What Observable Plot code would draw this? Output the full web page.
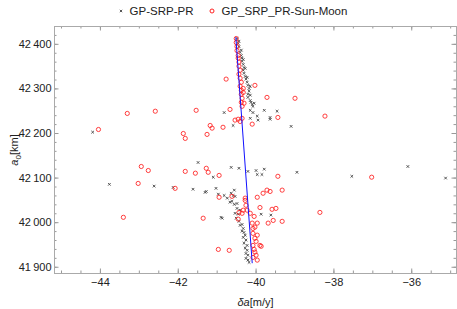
<!DOCTYPE html>
<html><head><meta charset="utf-8">
<script src="https://cdn.jsdelivr.net/npm/d3@7"></script>
<script src="https://cdn.jsdelivr.net/npm/@observablehq/plot@0.6"></script>
<style>
body{margin:0;background:#fff;font-family:"Liberation Sans",Arial,sans-serif;}
#legend{height:22px;display:flex;align-items:center;justify-content:center;font-size:11.5px;color:#222;padding-left:8px;}
#legend .item{display:flex;align-items:center;margin:0 8px;}
#legend svg{margin-right:6px;}
</style></head><body>
<div id="legend"></div>
<div id="chart"></div>
<script>
const seriesNames = ["GP-SRP-PR", "GP_SRP_PR-Sun-Moon"];
const xMajorTicks = [-44, -42, -40, -38, -36];
const yMajorTicks = [41900, 42000, 42100, 42200, 42300, 42400];
const xDomain = [-45.18, -34.85];
const yDomain = [41886, 42440];

// GP-SRP-PR (black x)
const gpX = [-40.49,-40.44,-40.46,-40.44,-40.38,-40.41,-40.38,-40.36,-40.33,-40.36,-40.33,-40.31,-40.28,-40.33,-40.31,-40.28,-40.23,-40.26,-40.23,-40.21,-40.15,-40.18,-40.18,-40.21,-40.15,-40.21,-40.15,-40.13,-40.05,-40.10,-40.08,-40.15,-40.08,-39.97,-40.15,-39.95,-39.79,-39.64,-39.46,-39.64,-40.59,-40.82,-39.10,-44.20,
 -40.64,-40.44,-40.21,-40.00,-39.97,-39.79,-39.85,-41.10,-41.49,-41.03,-41.31,-40.97,-40.82,-40.74,-40.56,-40.59,-40.67,-40.64,-40.54,-40.49,-40.49,-43.77,-42.62,-42.13,-41.62,-41.28,-38.95,-37.54,-36.10,-35.13,-39.62,-39.87,-40.90,-40.51,
 -40.62,-40.56,-40.54,-40.41,-40.87,-40.46,-40.44,-40.41,-40.36,-40.33,-40.36,-40.31,-40.28,-40.33,-40.26,-40.31,-40.23,-40.28,-40.23,-40.26,-40.21,-40.26,-40.21,-40.18];
const gpY = [42413,42407,42402,42395,42387,42382,42375,42369,42366,42362,42355,42348,42346,42342,42335,42328,42326,42322,42315,42308,42306,42301,42295,42288,42286,42281,42274,42270,42268,42265,42261,42252,42247,42239,42234,42230,42252,42236,42250,42232,42218,42247,42216,42203,
 42124,42122,42115,42117,42108,42120,42108,42102,42135,42077,42068,42064,42061,42055,42073,42061,42046,42066,42059,42043,42032,42086,42082,42079,42075,42070,42113,42104,42126,42100,42017,42019,42012,42010,
 42048,42041,42021,42028,42010,42019,42003,41994,41996,41987,41981,41978,41972,41967,41961,41954,41949,41943,41938,41931,41927,41920,41916,41911];

// GP_SRP_PR-Sun-Moon (red circles)
const smX = [-40.51,-40.51,-40.49,-40.49,-40.46,-40.46,-40.44,-40.44,-40.41,-40.44,-40.41,-40.38,-40.41,-40.33,-40.38,-40.33,-40.38,-40.36,-40.38,-40.31,-40.36,-40.54,-40.46,-40.36,-40.41,-40.10,-40.77,-40.03,-39.72,-40.67,-40.85,-41.18,-41.13,-41.26,-39.44,-44.05,-43.31,-42.59,-41.54,-41.87,-41.82,-39.00,-38.23,
 -42.95,-42.77,-41.82,-41.56,-41.28,-41.23,-40.95,-43.03,-42.08,-40.95,-40.62,-43.41,-41.36,-40.44,-40.46,-40.97,-40.69,-39.44,-37.03,-39.33,-39.64,-39.72,-39.82,-39.59,-39.49,-38.36,-39.56,-39.69,-39.33,-39.87,-39.97,-39.90,-40.28,
 -40.28,-40.26,-40.23,-40.15,-40.05,-40.10,-40.08,-40.03,-39.97,-40.08,-39.97,-40.03,-40.00,-40.08,-39.90,-40.05,-40.03,-40.00,-40.08,-39.97,-40.33,-40.36];
const smY = [42413,42404,42395,42386,42375,42369,42360,42351,42342,42333,42324,42315,42306,42301,42297,42292,42288,42279,42270,42268,42261,42230,42232,42234,42227,42221,42322,42308,42281,42254,42214,42218,42212,42198,42236,42209,42245,42250,42252,42200,42189,42279,42239,
 42126,42117,42115,42111,42122,42113,42106,42088,42077,42057,42059,42012,42010,42023,42008,41940,41938,42104,42102,42073,42070,42073,42066,42030,42032,42023,42005,41999,42003,41947,42057,42034,42055,
 42050,42039,42028,42021,42014,41999,41987,41990,41999,41976,41972,41965,41958,41949,41949,41940,41934,41927,41922,41916,42028,42021];

// blue fit line
const fitX = [-40.52, -40.10];
const fitY = [42415, 41910];

const gp = gpX.map((x, i) => ({x, y: gpY[i]}));
const sm = smX.map((x, i) => ({x, y: smY[i]}));
const fit = fitX.map((x, i) => ({x, y: fitY[i]}));

const W = 457, H = 287, mT = 4, mB = 36, mL = 54, mR = 1;
const innerH = H - mT - mB, innerW = W - mL - mR;
const xMinor = d3.range(-45, -34.9, 0.5);
const yMinor = d3.range(41900, 42441, 20);
const tickCol = "#999";

const chart = Plot.plot({
  width: W, height: H,
  marginTop: mT, marginBottom: mB, marginLeft: mL, marginRight: mR,
  style: {fontFamily: "'Liberation Sans', Arial, sans-serif", fontSize: "11px", color: "#222", background: "#fff"},
  x: {domain: xDomain},
  y: {domain: yDomain},
  marks: [
    Plot.axisX(xMajorTicks, {tickSize: 0, tickPadding: 5, tickFormat: d => "\u2212" + Math.abs(d), label: "δa[m/y]", labelAnchor: "center", labelOffset: 32, fontSize: 11}),
    Plot.axisY(yMajorTicks, {tickSize: 0, tickPadding: 3, tickFormat: d => d3.format(",")(d).replace(",", "\u2009"), label: "a0[km]", labelAnchor: "center", labelOffset: 44, labelArrow: "none", fontSize: 11}),
    // inward ticks on all four sides
    Plot.tickX(xMajorTicks, {x: d => d, insetTop: innerH - 4.5, stroke: tickCol}),
    Plot.tickX(xMinor, {x: d => d, insetTop: innerH - 2.5, stroke: tickCol}),
    Plot.tickX(xMajorTicks, {x: d => d, insetBottom: innerH - 4.5, stroke: tickCol}),
    Plot.tickX(xMinor, {x: d => d, insetBottom: innerH - 2.5, stroke: tickCol}),
    Plot.tickY(yMajorTicks, {y: d => d, insetRight: innerW - 4.5, stroke: tickCol}),
    Plot.tickY(yMinor, {y: d => d, insetRight: innerW - 2.5, stroke: tickCol}),
    Plot.tickY(yMajorTicks, {y: d => d, insetLeft: innerW - 4.5, stroke: tickCol}),
    Plot.tickY(yMinor, {y: d => d, insetLeft: innerW - 2.5, stroke: tickCol}),
    Plot.frame({stroke: "#aaa"}),
    Plot.dot(gp, {x: "x", y: "y", symbol: "times", r: 1.3, stroke: "#444", strokeWidth: 0.9}),
    Plot.dot(sm, {x: "x", y: "y", symbol: "circle", r: 2.1, stroke: "#ff2020", strokeWidth: 1, strokeOpacity: 0.85, fill: "none"}),
    Plot.line(fit, {x: "x", y: "y", stroke: "#1010ff", strokeWidth: 1})
  ]
});
document.getElementById("chart").appendChild(chart);

// rich labels (italic / subscript)
const svg = d3.select(chart);
svg.select('g[aria-label="x-axis label"] text').html('<tspan font-style="italic">δa</tspan>[m/y]');
svg.select('g[aria-label="y-axis label"] text').html('<tspan font-style="italic">a</tspan><tspan font-size="8" dy="3">0</tspan><tspan dy="-3">[km]</tspan>');

// legend
const leg = d3.select("#legend");
const it1 = leg.append("div").attr("class", "item");
const s1 = it1.append("svg").attr("width", 6).attr("height", 6);
s1.append("path").attr("d", "M1.8,1.8L4.2,4.2M1.8,4.2L4.2,1.8").attr("stroke", "#444").attr("stroke-width", 0.9);
it1.append("span").text(seriesNames[0]);
const it2 = leg.append("div").attr("class", "item");
const s2 = it2.append("svg").attr("width", 6).attr("height", 6);
s2.append("circle").attr("cx", 3).attr("cy", 3).attr("r", 2).attr("fill", "none").attr("stroke", "#ff2020").attr("stroke-width", 1);
it2.append("span").text(seriesNames[1]);
</script>
</body></html>
